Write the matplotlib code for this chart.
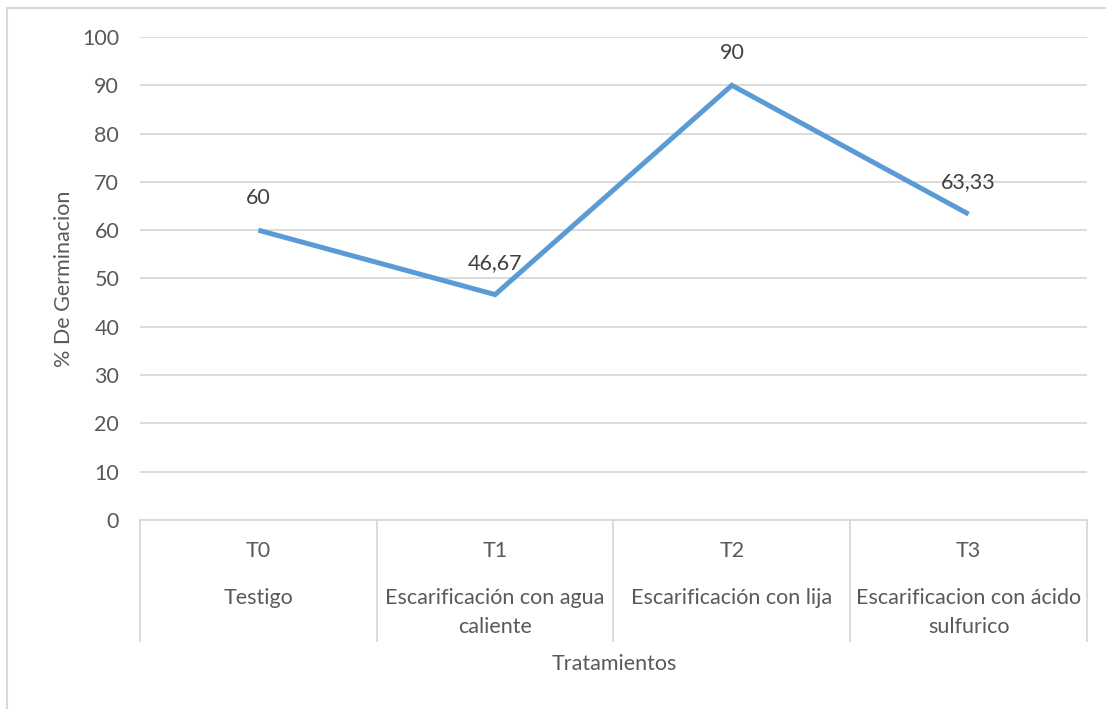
import matplotlib.pyplot as plt
from matplotlib.lines import Line2D

# Germination percentage per treatment
codes = ['T0', 'T1', 'T2', 'T3']
treatments = ['Testigo',
              'Escarificación con agua\ncaliente',
              'Escarificación con lija',
              'Escarificacion con ácido\nsulfurico']
germination = [60, 46.67, 90, 63.33]
value_labels = ['60', '46,67', '90', '63,33']

plt.rcParams['font.family'] = ['Lato', 'DejaVu Sans']
text_color = '#595959'
grid_color = '#D9D9D9'
fs = 15.5

fig = plt.figure(figsize=(11.06, 7.09), dpi=100)
ax = fig.add_axes([0.1266, 0.2666, 0.8562, 0.6812])

x = list(range(len(codes)))
ax.plot(x, germination, color='#5B9BD5', linewidth=3.6, solid_joinstyle='miter',
        solid_capstyle='butt', zorder=3)

for xi, v, lab in zip(x, germination, value_labels):
    ax.annotate(lab, (xi, v), xytext=(0, 23), textcoords='offset points',
                ha='center', va='center', fontsize=fs, color='#404040')

ax.set_xlim(-0.5, len(codes) - 0.5)
ax.set_ylim(0, 100)
ax.set_yticks(range(0, 101, 10))
ax.yaxis.grid(True, color=grid_color, linewidth=1.3)
ax.set_axisbelow(True)
ax.tick_params(axis='y', length=0, pad=15, labelsize=fs, labelcolor=text_color)
ax.set_xticks([])

for side in ['top', 'right', 'left']:
    ax.spines[side].set_visible(False)
ax.spines['bottom'].set_color(grid_color)
ax.spines['bottom'].set_linewidth(1.3)

# category separators under the axis
xt = ax.get_xaxis_transform()
ax.vlines([i - 0.5 for i in range(len(codes) + 1)], -0.2526, 0, transform=xt,
          colors=grid_color, linewidth=1.3, clip_on=False)

for xi, code, name in zip(x, codes, treatments):
    ax.text(xi, -0.0642, code, transform=xt, ha='center', va='center',
            fontsize=fs, color=text_color)
    ax.text(xi, -0.1405, name, transform=xt, ha='center', va='top',
            fontsize=fs, color=text_color, linespacing=1.6)

ax.set_ylabel('% De Germinacion', fontsize=fs, color=text_color, labelpad=6)
fig.text(0.5552, 1 - 664 / 709, 'Tratamientos', ha='center', va='center',
         fontsize=fs, color=text_color)

# chart frame (top and left edges)
fig.add_artist(Line2D([7 / 1106, 1], [1 - 8 / 709, 1 - 8 / 709], color=grid_color,
                      linewidth=1.5, transform=fig.transFigure))
fig.add_artist(Line2D([7 / 1106, 7 / 1106], [0, 1 - 8 / 709], color=grid_color,
                      linewidth=1.5, transform=fig.transFigure))

fig.savefig('out.png', dpi=100)
